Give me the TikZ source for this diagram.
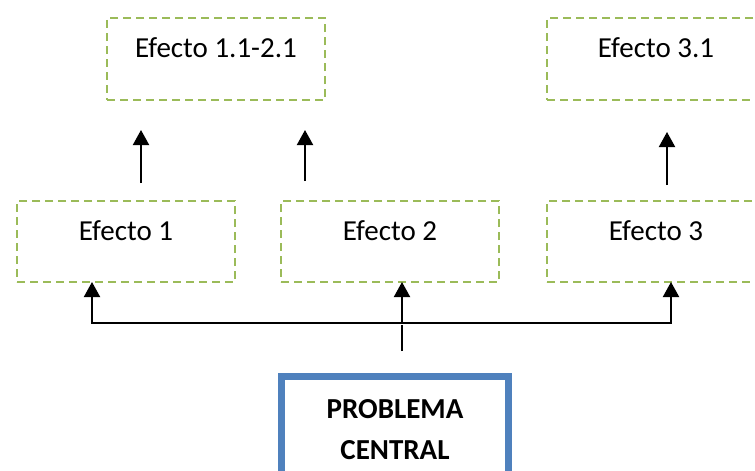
\documentclass[tikz,border=0pt]{standalone}
\usepackage{fontspec}
\setmainfont{Carlito}
\usetikzlibrary{arrows.meta,calc}
\definecolor{grn}{HTML}{9BBB59}
\definecolor{blu}{HTML}{4F81BD}
\begin{document}
\begin{tikzpicture}[x=1pt,y=-1pt,
  effbox/.style={draw=grn, line width=2pt, dash pattern=on 8pt off 5pt,
    minimum width=218pt, minimum height=81pt, outer sep=0pt, inner sep=0pt},
  lbl/.style={anchor=base, font=\fontsize{29}{35}\selectfont, inner sep=0pt},
  blbl/.style={anchor=base, font=\fontsize{29}{35}\selectfont\bfseries, inner sep=0pt},
  arr/.style={line width=2pt, -{Triangle[width=16pt,length=15pt]}},
  probbox/.style={draw=blu, line width=7pt, minimum width=227pt, minimum height=150pt,
    outer sep=0pt, inner sep=0pt}]
\useasboundingbox (0,0) rectangle (755,471);
\clip (0,0) rectangle (755,471);
\fill[white] (0,0) rectangle (755,471);

% top row
\node[effbox, minimum height=82pt] (t1) at (216,59) {};
\node[effbox, minimum height=82pt] (t2) at (656,59) {};
\node[lbl] (t1l) at ([yshift=-39pt]t1.north) {Efecto 1.1-2.1};
\node[lbl] (t2l) at ([yshift=-39pt]t2.north) {Efecto 3.1};

% middle row
\node[effbox] (e1) at (126,241.5) {};
\node[effbox] (e2) at (390,241.5) {};
\node[effbox] (e3) at (656,241.5) {};
\node[lbl] (e1l) at ([yshift=-39pt]e1.north) {Efecto 1};
\node[lbl] (e2l) at ([yshift=-39pt]e2.north) {Efecto 2};
\node[lbl] (e3l) at ([yshift=-39pt]e3.north) {Efecto 3};

% upward arrows between rows
\draw[arr] ([xshift=15pt,yshift=18pt]e1.north) -- ([xshift=-75pt,yshift=-30pt]t1.south);
\draw[arr] ([xshift=-85pt,yshift=20pt]e2.north) -- ([xshift=89pt,yshift=-30pt]t1.south);
\draw[arr] ([xshift=11pt,yshift=16pt]e3.north) -- ([xshift=11pt,yshift=-32pt]t2.south);

% central problem
\node[probbox] (p) at (395,451.5) {};
\node[blbl] (pl1) at ([yshift=-41.5pt]p.north) {PROBLEMA};
\node[blbl] (pl2) at ([yshift=-82.5pt]p.north) {CENTRAL};

% connectors from problem to effects
\coordinate (j) at ([xshift=12pt,yshift=-40.5pt]e2.south);
\draw[line width=1.2pt] ([xshift=7pt,yshift=25.5pt]p.north) -- ([yshift=-2.5pt]j);
\draw[arr] (j) -| ([xshift=-34pt]e1.south);
\draw[arr] (j) -| ([xshift=15pt]e3.south);
\draw[arr] (j) -- (e2.south -| j);
\end{tikzpicture}
\end{document}
